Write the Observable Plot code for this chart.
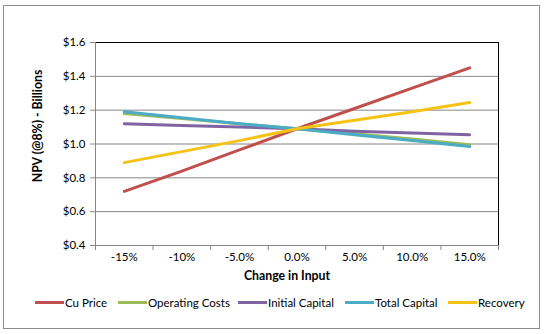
<!DOCTYPE html>
<html><head><meta charset="utf-8">
<script src="https://cdn.jsdelivr.net/npm/d3@7"></script>
<script src="https://cdn.jsdelivr.net/npm/@observablehq/plot@0.6"></script>
<style>
body{margin:0;background:#fff;font-family:Lato,"Open Sans",sans-serif;color:#000;}
#wrap{position:relative;width:546px;height:334px;overflow:hidden;background:#fff}
#border{position:absolute;left:3px;top:5px;width:535px;height:322px;border:1px solid #8c8c8c;pointer-events:none}
#chart{position:absolute;left:0;top:0}
.ttl{position:absolute;font-weight:bold;font-size:12.3px;white-space:nowrap;transform:translate(-50%,-50%)}
#ytitle{left:37px;top:126px;transform:translate(-50%,-50%) rotate(-90deg)}
#xtitle{left:287px;top:275px}
.leg{position:absolute;top:295px;display:flex;align-items:center;font-size:11.5px;white-space:nowrap;height:14px}
.sw{display:inline-block;width:29px;height:3px;margin-right:1px}
</style>
</head><body>
<div id="wrap">
  <div id="chart"></div>
  <div class="ttl" id="ytitle">NPV (@8%) - Billions</div>
  <div class="ttl" id="xtitle">Change in Input</div>
  <div id="legend"></div>
  <div id="border"></div>
</div>
<script>
const categories = ["-15%", "-10%", "-5.0%", "0.0%", "5.0%", "10.0%", "15.0%"];
const seriesNames = ["Cu Price", "Operating Costs", "Initial Capital", "Total Capital", "Recovery"];
const cuPrice        = [0.72, 0.84, 0.965, 1.09, 1.21, 1.33, 1.45];
const operatingCosts = [1.18, 1.15, 1.12, 1.09, 1.06, 1.03, 0.995];
const initialCapital = [1.12, 1.11, 1.10, 1.09, 1.075, 1.065, 1.055];
const totalCapital   = [1.19, 1.155, 1.12, 1.09, 1.055, 1.02, 0.985];
const recovery       = [0.89, 0.955, 1.02, 1.09, 1.14, 1.19, 1.245];
const yTicks = [0.4, 0.6, 0.8, 1.0, 1.2, 1.4, 1.6];
const colors = ["#C0504D", "#9BBB59", "#8064A2", "#4BACC6", "#F5C216"];
const legendLeft = [35, 118, 238, 345, 448];

const seriesValues = [cuPrice, operatingCosts, initialCapital, totalCapital, recovery];
const rows = [];
seriesNames.forEach((s, k) => seriesValues[k].forEach((v, i) => rows.push({series: s, i, v})));
const idx = categories.map((_, i) => i);
const bounds = d3.range(-0.5, categories.length, 1);
const xMin = -0.5, xMax = categories.length - 0.5;
const yMin = yTicks[0], yMax = yTicks[yTicks.length - 1];

const chart = Plot.plot({
  width: 546, height: 290,
  marginLeft: 95, marginRight: 48, marginTop: 42, marginBottom: 45,
  style: {fontFamily: "Lato, 'Open Sans', sans-serif", fontSize: "11.5px", background: "transparent"},
  x: {domain: [xMin, xMax], axis: null},
  y: {domain: [yMin, yMax], axis: null},
  color: {domain: seriesNames, range: colors},
  marks: [
    Plot.gridY(yTicks, {stroke: "#868686", strokeOpacity: 1}),
    Plot.ruleY([yMax], {stroke: "#000", strokeWidth: 1}),
    Plot.ruleX([xMax], {stroke: "#000", strokeWidth: 1}),
    Plot.ruleX([xMin], {stroke: "#868686"}),
    Plot.ruleY([yMin], {stroke: "#868686"}),
    Plot.axisY(yTicks, {tickSize: 5, tickPadding: 5, stroke: "#868686", tickFormat: d => "$" + d.toFixed(1), label: null}),
    Plot.axisX(bounds, {tickSize: 5, stroke: "#868686", tickFormat: () => "", label: null}),
    Plot.axisX(idx, {tickSize: 0, tickPadding: 7, tickFormat: i => categories[i], label: null}),
    Plot.line(rows, {x: "i", y: "v", z: "series", stroke: "series", strokeWidth: 3, strokeLinecap: "round"})
  ]
});
document.getElementById("chart").appendChild(chart);

const leg = document.getElementById("legend");
seriesNames.forEach((s, k) => {
  const d = document.createElement("div");
  d.className = "leg";
  d.style.left = legendLeft[k] + "px";
  d.innerHTML = `<span class="sw" style="background:${colors[k]}"></span><span>${s}</span>`;
  leg.appendChild(d);
});
</script>
</body></html>
